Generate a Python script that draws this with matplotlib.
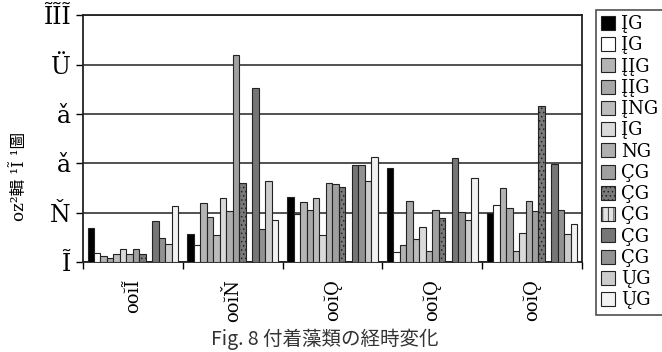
import matplotlib.pyplot as plt
import numpy as np

plt.rcParams['font.family'] = ['DejaVu Serif', 'Noto Sans CJK JP']

# garbled labels as they appear in the source figure
groups = ["ooĭĨ", "ooĭŇ", "ooĭǪ", "ooĭǪ", "ooĭǪ"]
series = ["ĮG", "ĮG", "ĮĮG", "ĮĮG", "ĮNG", "ĮG", "NG",
          "ÇG", "ÇG", "ÇG", "ÇG", "ÇG", "ŲG", "ŲG"]
yticks = [0, 100, 200, 300, 400, 500]
ytick_labels = ["Ĩ", "Ň", "ǎ", "ǎ", "Ü", "ĨĨĨ"]
ylabel = "oz²輯 ¹Ĩ ¹圖"
title = "Fig. 8 付着藻類の経時変化"

# values per series (one entry per group)
values = [
    [69, 57, 132, 190, 99],
    [19, 35, 98, 20, 116],
    [13, 119, 122, 35, 150],
    [9, 91, 106, 123, 110],
    [16, 54, 129, 46, 22],
    [26, 129, 54, 71, 59],
    [16, 104, 161, 22, 124],
    [26, 419, 158, 106, 104],
    [16, 159, 152, 89, 315],
    [0, 0, 0, 0, 0],
    [83, 353, 197, 211, 199],
    [48, 67, 197, 101, 106],
    [37, 164, 165, 86, 57],
    [113, 86, 213, 170, 77],
]

colors = ["#000000", "#ffffff", "#b4b4b4", "#a8a8a8", "#bcbcbc", "#dadada",
          "#b0b0b0", "#a0a0a0", "#7a7a7a", "#e4e4e4", "#767676", "#929292",
          "#cccccc", "#f2f2f2"]
hatches = [None, None, None, None, None, None, None, None, "....", "|||",
           None, None, None, None]

fig = plt.figure(figsize=(6.62, 3.52), dpi=100)
ax = fig.add_axes([0.1254, 0.2557, 0.879 - 0.1254, 0.957 - 0.2557])

plt.rcParams['hatch.linewidth'] = 0.6
n = len(series)
w = 0.065
x = np.arange(len(groups))
for i in range(n):
    off = (i - (n - 1) / 2) * w
    ax.bar(x + off, values[i], width=w, color=colors[i], edgecolor="#222222",
           linewidth=0.8, hatch=hatches[i], label=series[i], zorder=3)

ax.set_xlim(-0.5, len(groups) - 0.5)
ax.set_ylim(0, 500)
ax.set_yticks(yticks)
ax.set_yticklabels(ytick_labels, fontsize=17)
ax.yaxis.grid(True, color="#333333", linewidth=1.2, zorder=0)
ax.set_xticks(x)
ax.set_xticklabels(groups, rotation=90, fontsize=13)
ax.tick_params(axis="x", length=0, pad=12)
ax.set_xticks(np.arange(len(groups) + 1) - 0.5, minor=True)
ax.tick_params(axis="x", which="minor", length=5, width=1)
ax.tick_params(axis="y", length=5, width=1, pad=4)
for s in ax.spines.values():
    s.set_linewidth(1.3)
    s.set_color("#222222")

fig.text(0.03, 0.5, ylabel, rotation=90, va="center", ha="center",
         fontsize=12)
fig.text(0.49, 0.035, title, ha="center", va="center", fontsize=14,
         family=["Noto Sans CJK JP", "DejaVu Sans"], color="#333333")

leg = fig.legend(loc="upper left", bbox_to_anchor=(0.886, 0.998),
                 fontsize=13, handlelength=0.8, handleheight=0.8,
                 handletextpad=0.3, labelspacing=0.18, borderpad=0.3,
                 frameon=True, fancybox=False, edgecolor="#222222")
leg.get_frame().set_linewidth(1.2)

fig.savefig("out.png", dpi=100)
